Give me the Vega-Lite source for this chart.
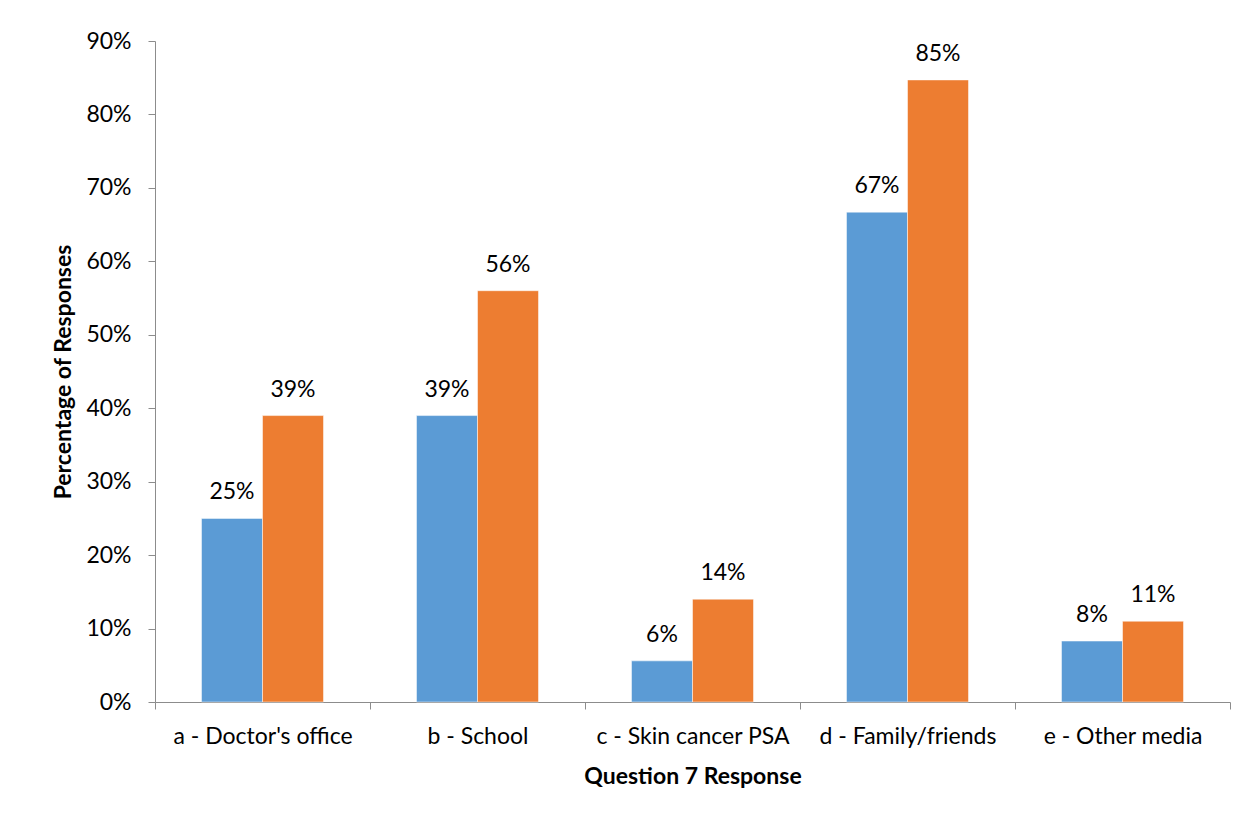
{
  "$schema": "https://vega.github.io/schema/vega-lite/v6.json",
  "autosize": "none",
  "width": 1075,
  "height": 661,
  "padding": {"left": 155, "top": 41, "right": 18, "bottom": 116},
  "background": "white",
  "config": {
    "view": {"stroke": null},
    "font": "Lato",
    "axis": {
      "labelFont": "Lato",
      "titleFont": "Lato",
      "labelFontSize": 23,
      "titleFontSize": 23,
      "labelColor": "#000000",
      "titleColor": "#000000",
      "domainColor": "#8c8c8c",
      "tickColor": "#8c8c8c",
      "labelLimit": 0,
      "grid": false
    }
  },
  "data": {
    "values": [
      {"category": "a - Doctor's office", "series": "Series 1", "value": 0.25},
      {"category": "a - Doctor's office", "series": "Series 2", "value": 0.39},
      {"category": "b - School", "series": "Series 1", "value": 0.39},
      {"category": "b - School", "series": "Series 2", "value": 0.56},
      {"category": "c - Skin cancer PSA", "series": "Series 1", "value": 0.056},
      {"category": "c - Skin cancer PSA", "series": "Series 2", "value": 0.14},
      {"category": "d - Family/friends", "series": "Series 1", "value": 0.667},
      {"category": "d - Family/friends", "series": "Series 2", "value": 0.847},
      {"category": "e - Other media", "series": "Series 1", "value": 0.083},
      {"category": "e - Other media", "series": "Series 2", "value": 0.11}
    ]
  },
  "encoding": {
    "x": {
      "field": "category",
      "type": "nominal",
      "sort": null,
      "scale": {"paddingInner": 0, "paddingOuter": 0},
      "axis": {
        "title": "Question 7 Response",
        "labelAngle": 0,
        "labelLimit": 0,
        "tickBand": "extent",
        "tickSize": 7,
        "labelPadding": 16,
        "titlePadding": 17,
        "titleFontWeight": "bold"
      }
    },
    "xOffset": {
      "field": "series",
      "type": "nominal",
      "scale": {"paddingInner": 0, "paddingOuter": 0.762}
    },
    "y": {
      "field": "value",
      "type": "quantitative",
      "scale": {"domain": [0, 0.9], "nice": false},
      "axis": {
        "title": "Percentage of Responses",
        "format": ".0%",
        "values": [0, 0.1, 0.2, 0.3, 0.4, 0.5, 0.6, 0.7, 0.8, 0.9],
        "tickSize": 7,
        "labelPadding": 17,
        "titlePadding": 10,
        "titleFontWeight": "bold"
      }
    },
    "color": {
      "field": "series",
      "type": "nominal",
      "scale": {"domain": ["Series 1", "Series 2"], "range": ["#5B9BD5", "#ED7D31"]},
      "legend": null
    }
  },
  "layer": [
    {"mark": {"type": "bar", "stroke": "white", "strokeWidth": 0.5}},
    {
      "mark": {"type": "text", "baseline": "bottom", "dy": -14, "fontSize": 23, "color": "#000000"},
      "encoding": {
        "text": {"field": "value", "type": "quantitative", "format": ".0%"},
        "color": {"value": "#000000"}
      }
    }
  ]
}
